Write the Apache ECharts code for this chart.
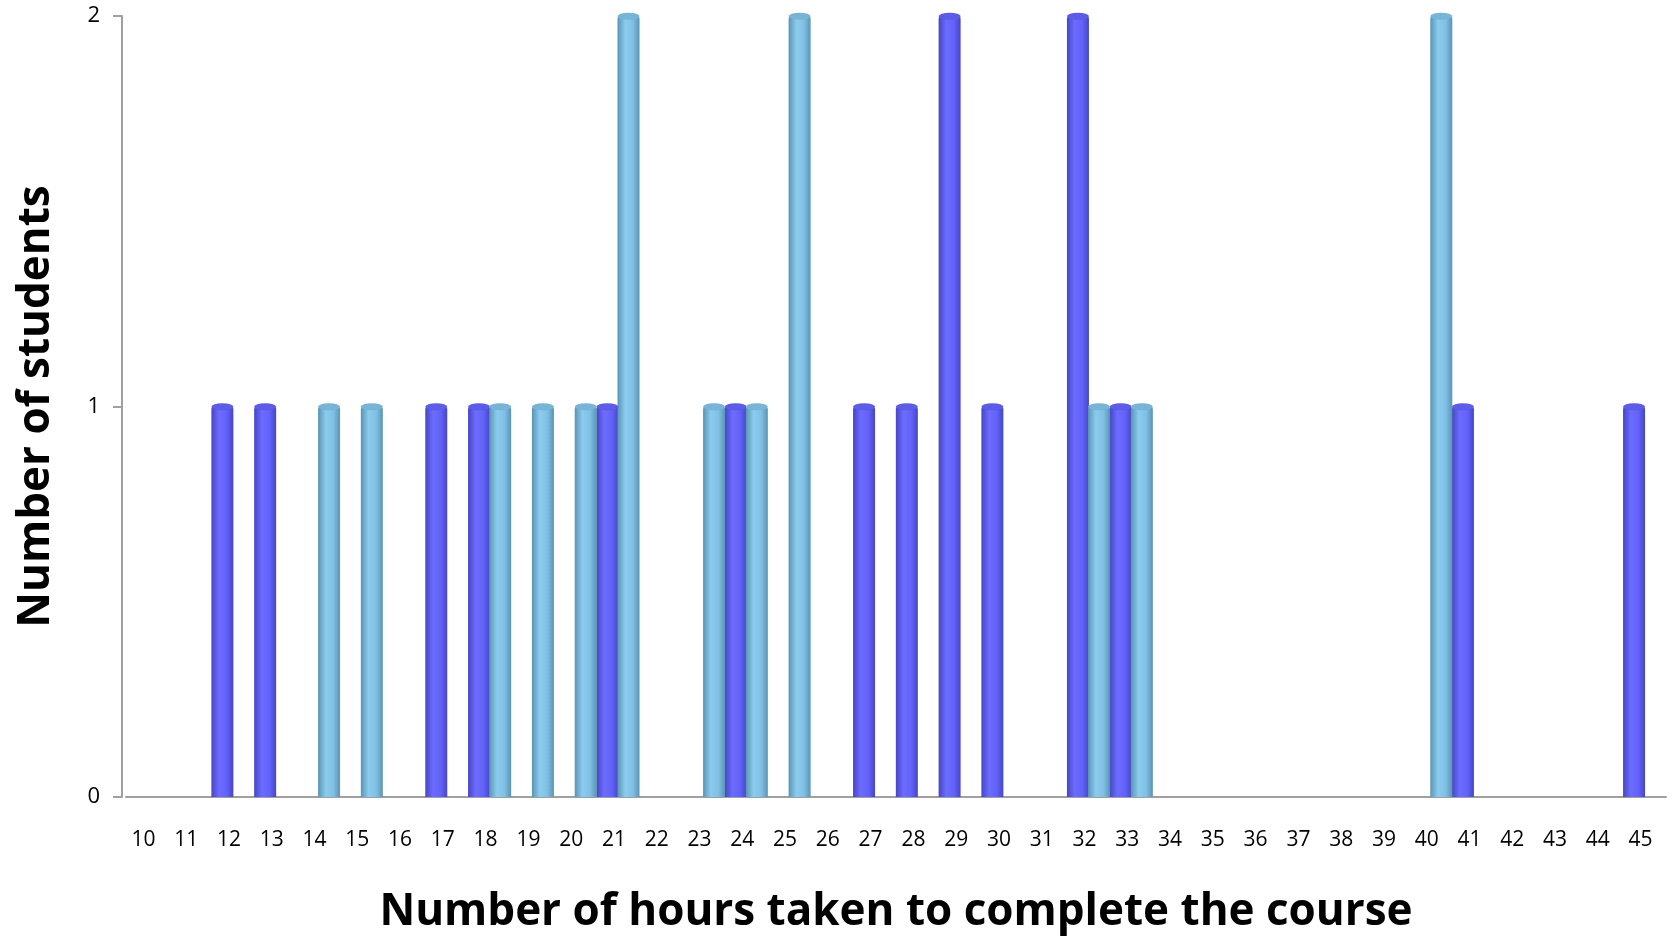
<!DOCTYPE html>
<html>
<head>
<meta charset="utf-8">
<script src="https://cdn.jsdelivr.net/npm/echarts@6/dist/echarts.min.js"></script>
<style>
  html, body { margin: 0; padding: 0; background: #fff; }
  #chart { width: 1676px; height: 939px; }
</style>
</head>
<body>
<div id="chart"></div>
<script>
var hours = ["10", "11", "12", "13", "14", "15", "16", "17", "18", "19", "20", "21",
  "22", "23", "24", "25", "26", "27", "28", "29", "30", "31", "32", "33",
  "34", "35", "36", "37", "38", "39", "40", "41", "42", "43", "44", "45"];
var groupA = [0, 0, 1, 1, 0, 0, 0, 1, 1, 0, 0, 1,
  0, 0, 1, 0, 0, 1, 1, 2, 1, 0, 2, 1,
  0, 0, 0, 0, 0, 0, 0, 1, 0, 0, 0, 1];
var groupB = [0, 0, 0, 0, 1, 1, 0, 0, 1, 1, 1, 2,
  0, 1, 1, 2, 0, 0, 0, 0, 0, 0, 1, 1,
  0, 0, 0, 0, 0, 0, 2, 0, 0, 0, 0, 0];
var yTicks = [0, 1, 2];

var font = "'Open Sans', 'Noto Sans', sans-serif";

function cylinder(edge, mid, light) {
  return new echarts.graphic.LinearGradient(0, 0, 1, 0, [
    { offset: 0, color: edge },
    { offset: 0.35, color: light },
    { offset: 0.7, color: mid },
    { offset: 1, color: edge }
  ]);
}

// caps only where there is a bar
function caps(arr) {
  return arr.map(function (v) { return v > 0 ? v : null; });
}

var chart = echarts.init(document.getElementById("chart"));
var option = {
  animation: false,
  grid: { left: 126, right: 10, top: 16, bottom: 140 },
  xAxis: {
    type: "category",
    data: hours,
    name: "Number of hours taken to complete the course",
    nameLocation: "middle",
    nameGap: 93,
    nameTextStyle: { fontFamily: font, fontWeight: "bold", fontSize: 44, color: "#000" },
    axisLine: { lineStyle: { color: "#a0a0a0", width: 2 } },
    axisTick: { show: false },
    axisLabel: { fontFamily: font, fontSize: 21, color: "#000", margin: 33, padding: [0, 8, 0, 0] }
  },
  yAxis: {
    type: "value",
    min: yTicks[0],
    max: yTicks[yTicks.length - 1],
    interval: 1,
    offset: 4,
    name: "Number of students",
    nameLocation: "middle",
    nameRotate: 90,
    nameGap: 64,
    nameTextStyle: { fontFamily: font, fontWeight: "bold", fontSize: 44, color: "#000" },
    splitLine: { show: false },
    axisLine: { show: true, lineStyle: { color: "#a0a0a0", width: 2 } },
    axisTick: { show: true, length: 9, lineStyle: { color: "#a0a0a0", width: 2 } },
    axisLabel: { fontFamily: font, fontSize: 22, color: "#000", margin: 22 }
  },
  series: [
    {
      name: "A",
      type: "bar",
      data: groupA,
      barWidth: 22,
      barGap: "-4%",
      itemStyle: {
        color: cylinder("#4646c4", "#6262fa", "#6c6cff"),
        borderRadius: [3, 3, 0, 0]
      }
    },
    {
      name: "B",
      type: "bar",
      data: groupB,
      barWidth: 22,
      barGap: "-4%",
      itemStyle: {
        color: cylinder("#5a94b4", "#80c0e4", "#8acbee"),
        borderRadius: [3, 3, 0, 0]
      }
    },
    {
      name: "A top",
      type: "pictorialBar",
      data: caps(groupA),
      barWidth: 22,
      barGap: "-4%",
      symbol: "circle",
      symbolSize: [22, 7],
      symbolPosition: "end",
      symbolOffset: [0, "-50%"],
      z: 3,
      itemStyle: { color: "#5c5ce6", borderColor: "#4a4ac8", borderWidth: 1 }
    },
    {
      name: "B top",
      type: "pictorialBar",
      data: caps(groupB),
      barWidth: 22,
      barGap: "-4%",
      symbol: "circle",
      symbolSize: [22, 7],
      symbolPosition: "end",
      symbolOffset: [0, "-50%"],
      z: 3,
      itemStyle: { color: "#78b4d6", borderColor: "#5a94b4", borderWidth: 1 }
    }
  ]
};
chart.setOption(option);
</script>
</body>
</html>
